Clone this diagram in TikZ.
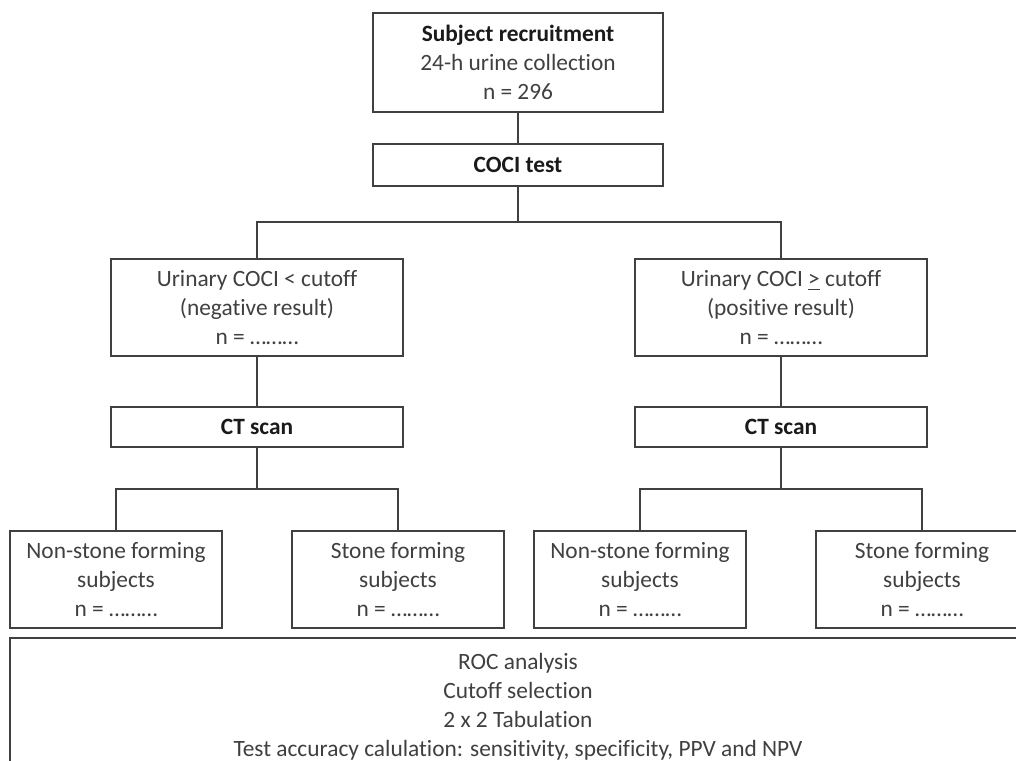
\documentclass[tikz,border=0pt]{standalone}
\usepackage{fontspec}
\setmainfont{Carlito}[Ligatures={NoCommon}]
\usetikzlibrary{positioning,calc}
\definecolor{fcline}{HTML}{404040}
\definecolor{fctext}{HTML}{404040}
\definecolor{fcbold}{HTML}{1A1A1A}
\tikzset{
  blk/.style  ={rectangle, draw=fcline, line width=1pt, fill=white, text=fctext,
                align=center, font=\fontsize{13.3}{16.5}\selectfont, inner sep=2pt},
  blkb/.style ={blk, text=fcbold, font=\fontsize{13.3}{16.5}\selectfont\bfseries},
  mid/.style  ={blk, minimum width=5.84cm, minimum height=1.94cm},
  leaf/.style ={blk, minimum width=4.24cm, minimum height=1.94cm},
  ct/.style   ={blkb, minimum width=5.84cm, minimum height=0.8cm},
  ln/.style   ={draw=fcline, line width=1pt}
}

\begin{document}
\begin{tikzpicture}[x=0.02cm,y=-0.02cm]
  \useasboundingbox (0,0) rectangle (1016,760);
  \clip (0,0) rectangle (1016,760);
  % --- top : recruitment -> test
  \node[blk,minimum width=5.8cm,minimum height=1.98cm] (rec)  at (518,62.5)
        {\textbf{\color{fcbold}Subject recruitment}\\24-h urine collection\\n = 296};
  \node[blkb,minimum width=5.8cm,minimum height=0.84cm]  (coci) at (518,165) {COCI test};
  \coordinate (s1) at (518,222);
  % --- test results
  \node[mid] (neg) at (257,307.5) {Urinary COCI < cutoff\\(negative result)\\n = ………};
  \node[mid] (pos) at (781,307.5) {Urinary COCI \underline{>} cutoff\\(positive result)\\n = ………};
  % --- imaging
  \node[ct]  (ctn) at (257,427) {CT scan};
  \node[ct]  (ctp) at (781,427) {CT scan};
  \coordinate (s2) at (257,489);
  \coordinate (s3) at (781,489);
  % --- outcome groups
  \node[leaf] (nn) at (116,579.5) {Non-stone forming\\subjects\\n = ………};
  \node[leaf] (ns) at (398,579.5) {Stone forming\\subjects\\n = ………};
  \node[leaf] (pn) at (640,579.5) {Non-stone forming\\subjects\\n = ………};
  \node[leaf] (ps) at (922,579.5) {Stone forming\\subjects\\n = ………};
  % --- analysis
  \node[blk,minimum width=20.32cm,minimum height=2.74cm] (roc) at (518,706.5)
        {ROC analysis\\Cutoff selection\\2 x 2 Tabulation\\Test accuracy calulation: sensitivity, specificity, PPV and NPV};

  \draw[ln] (rec)--(coci);
  \draw[ln] (coci)--(s1);
  \draw[ln] (neg.north) |- (s1) -| (pos.north);
  \draw[ln] (neg)--(ctn); \draw[ln] (pos)--(ctp);
  \draw[ln] (ctn)--(s2);  \draw[ln] (ctp)--(s3);
  \draw[ln] (nn.north) |- (s2) -| (ns.north);
  \draw[ln] (pn.north) |- (s3) -| (ps.north);
\end{tikzpicture}
\end{document}
